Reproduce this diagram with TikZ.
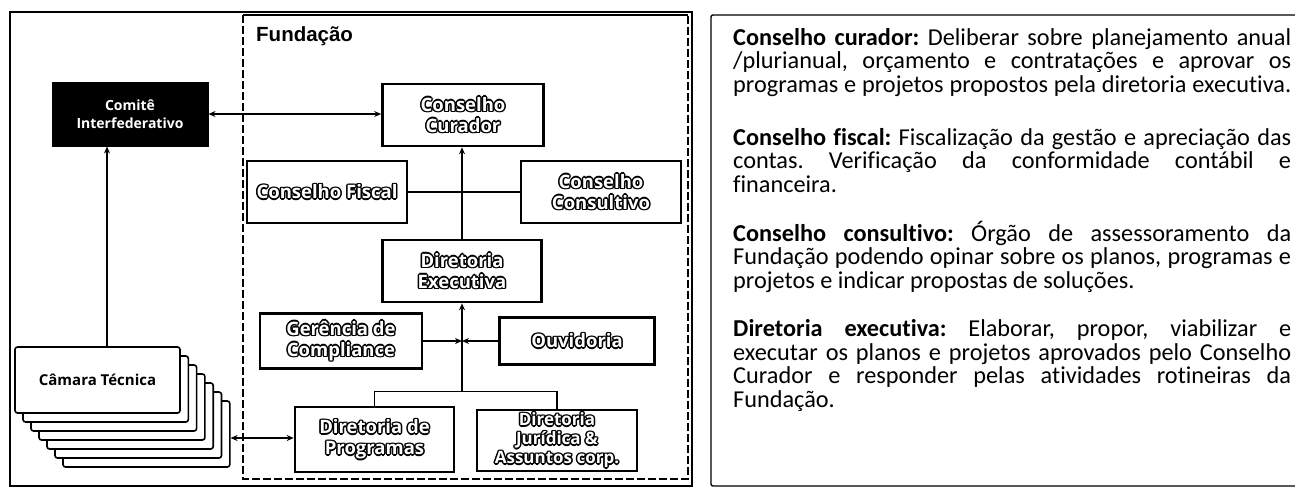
\documentclass[tikz,border=0pt]{standalone}
\usepackage{fontspec}
\usetikzlibrary{arrows.meta}
\setmainfont{Carlito}
\newfontfamily\rtf[Ligatures=NoCommon]{Carlito}
\newfontfamily\bxf{Open Sans}
\newfontfamily\fdf{Liberation Sans}
\newlength\olw
\setlength\olw{1.5pt}
\newcommand\olpart[3]{\rlap{\kern#1\raisebox{#2}{\color{black}#3}}}
\newcommand\outl[1]{\leavevmode\olpart{-\olw}{0pt}{#1}\olpart{\olw}{0pt}{#1}\olpart{0pt}{\olw}{#1}\olpart{0pt}{-\olw}{#1}\olpart{-.7\olw}{.7\olw}{#1}\olpart{.7\olw}{.7\olw}{#1}\olpart{-.7\olw}{-.7\olw}{#1}\olpart{.7\olw}{-.7\olw}{#1}{\color{white}#1}}
\newcommand\jl[1]{\hbox to 558pt{#1}}
\newsavebox\measbx
\sbox\measbx{\rtf\fontsize{10pt}{12pt}\selectfont\frenchspacing programas e projetos propostos pela diretoria executiva.}
\pgfmathsetmacro\rts{10*556/\wd\measbx}
\begin{document}
\begin{tikzpicture}[x=1pt,y=-1pt,
  >={Stealth[length=7pt,width=6pt]},
  frame/.style={line width=1.4pt},
  obox/.style={draw, line width=2.6pt, fill=white, inner sep=0pt, align=center,
    font=\bxf\bfseries\fontsize{18.5}{21}\selectfont},
  cbox/.style={draw, line width=1pt, fill=black, text=white, inner sep=0pt, align=center,
    font=\bxf\bfseries\fontsize{14}{18}\selectfont},
  card/.style={draw, line width=1.6pt, fill=white, rounded corners=2.5pt, inner sep=0pt,
    font=\bxf\bfseries\fontsize{15}{18}\selectfont},
  conn/.style={line width=1.5pt},
  rt/.style={font=\rtf\frenchspacing\fontsize{\rts pt}{\rts pt}\selectfont, inner sep=0pt, anchor=base west}]
\useasboundingbox (0,0) rectangle (1295,488);
\clip (0,0) rectangle (1295,488);

% frames
\draw[frame] (10,12) rectangle (692,486);
\draw[line width=1.4pt] (243,15) -- (688,15);
\draw[line width=1.3pt, dash pattern=on 8pt off 3pt] (243,15) -- (243,479) -- (688,479) -- (688,15);
\draw[frame, rounded corners=2pt] (711,15) rectangle (1310,486);

\node[font=\fdf\bfseries\fontsize{20.5}{24}\selectfont, anchor=west, inner sep=0pt] (fund) at (256,36) {Fundação};

% main boxes
\node[cbox, minimum width=156pt, minimum height=64pt] (comite) at (130,114) {Comitê\\Interfederativo};
\node[obox, minimum width=161pt, minimum height=62pt] (curador) at (463,115) {\outl{Conselho}\\\outl{Curador}};
\node[obox, minimum width=160pt, minimum height=62pt] (fiscal) at (327,192) {\outl{Conselho Fiscal}};
\node[obox, minimum width=160pt, minimum height=62pt] (consultivo) at (601,192) {\outl{Conselho}\\\outl{Consultivo}};
\node[obox, minimum width=159pt, minimum height=62pt] (executiva) at (462,271) {\outl{Diretoria}\\\outl{Executiva}};
\node[obox, minimum width=162pt, minimum height=55pt] (compliance) at (341,341) {\outl{Gerência de}\\\outl{Compliance}};
\node[obox, minimum width=155pt, minimum height=47pt] (ouvidoria) at (577,341) {\outl{Ouvidoria}};
\node[obox, minimum width=159pt, minimum height=65pt] (programas) at (374.5,439.5) {\outl{Diretoria de}\\\outl{Programas}};
\node[obox, minimum width=160pt, minimum height=61pt, font=\bxf\bfseries\fontsize{17}{19}\selectfont] (juridica) at (557,440.5) {\outl{Diretoria}\\\outl{Jurídica \&}\\\outl{Assuntos corp.}};

% card stack
\foreach \i in {6,5,...,1} {
  \node[card, minimum width={165pt+0.3pt*\i}, minimum height=66pt] (st\i) at ({97.5+8.15*\i},{380+9*\i}) {};
}
\node[card, minimum width=165pt, minimum height=66pt] (camara) at (97.5,380) {Câmara Técnica};

% connectors
\draw[conn,<->] (comite.east) -- (comite.east -| curador.west);
\draw[conn] (fiscal.east) -- (consultivo.west);
\draw[conn,->] (executiva.north) -- (executiva.north |- curador.south);
\coordinate (J) at (executiva.south |- compliance.east);
\coordinate (B) at ([yshift=14pt]programas.north -| executiva.south);
\draw[conn,->] (compliance.east) -- (J);
\draw[conn,->] (ouvidoria.west) -- (J);
\draw[conn,->] (B) -- (executiva.south);
\draw[conn] (programas.north) -- (programas.north |- B) -- (juridica.north |- B) -- (juridica.north);
\coordinate (ct) at ([xshift=9.5pt]camara.north);
\draw[conn,->] (ct) -- (ct |- comite.south);
\draw[conn,<->] ([yshift=1.5pt]programas.west -| st6.east) -- ([yshift=1.5pt]programas.west);

% right text
\node[rt] (t1) at (733,45) {\jl{\textbf{Conselho curador:} Deliberar sobre planejamento anual}};
\node[rt] (t2) at (733,68.5) {\jl{/plurianual, orçamento e contratações e aprovar os}};
\node[rt] (t3) at (733,92) {\jl{programas e projetos propostos pela diretoria executiva.}};
\node[rt] (t4) at (733,145) {\jl{\textbf{Conselho fiscal:} Fiscalização da gestão e apreciação das}};
\node[rt] (t5) at (733,168.5) {\jl{contas. Verificação da conformidade contábil e}};
\node[rt] (t6) at (733,192) {financeira.};
\node[rt] (t7) at (733,241) {\jl{\textbf{Conselho consultivo:} Órgão de assessoramento da}};
\node[rt] (t8) at (733,264.5) {\jl{Fundação podendo opinar sobre os planos, programas e}};
\node[rt] (t9) at (733,288) {projetos e indicar propostas de soluções.};
\node[rt] (t10) at (733,336.5) {\jl{\textbf{Diretoria executiva:} Elaborar, propor, viabilizar e}};
\node[rt] (t11) at (733,360) {\jl{executar os planos e projetos aprovados pelo Conselho}};
\node[rt] (t12) at (733,383.5) {\jl{Curador e responder pelas atividades rotineiras da}};
\node[rt] (t13) at (733,407) {Fundação.};
\end{tikzpicture}
\end{document}
